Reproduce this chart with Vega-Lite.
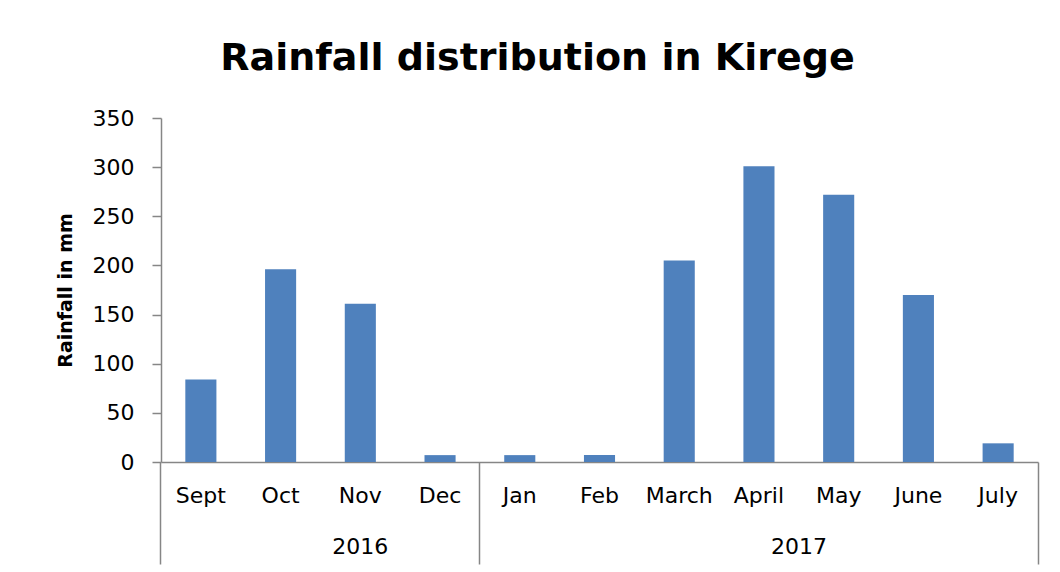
{
  "$schema": "https://vega.github.io/schema/vega-lite/v6.json",
  "width": 877,
  "height": 344,
  "autosize": "none",
  "padding": {"left": 161, "top": 118, "right": 22, "bottom": 110},
  "background": "white",
  "config": {
    "font": "DejaVu Sans",
    "view": {"stroke": null},
    "axis": {"labelColor": "#000000", "titleColor": "#000000", "domainColor": "#868686", "tickColor": "#868686", "grid": false, "labelFont": "DejaVu Sans", "titleFont": "DejaVu Sans"}
  },
  "title": {
    "text": "Rainfall distribution in Kirege",
    "fontSize": 38,
    "fontWeight": "bold",
    "font": "DejaVu Sans",
    "color": "#000000",
    "anchor": "middle",
    "frame": "group",
    "dx": -62,
    "offset": 29
  },
  "data": {
    "values": [
      {"year": "2016", "month": "Sept", "rainfall": 84},
      {"year": "2016", "month": "Oct", "rainfall": 196},
      {"year": "2016", "month": "Nov", "rainfall": 161},
      {"year": "2016", "month": "Dec", "rainfall": 7},
      {"year": "2017", "month": "Jan", "rainfall": 7},
      {"year": "2017", "month": "Feb", "rainfall": 7},
      {"year": "2017", "month": "March", "rainfall": 205},
      {"year": "2017", "month": "April", "rainfall": 301},
      {"year": "2017", "month": "May", "rainfall": 272},
      {"year": "2017", "month": "June", "rainfall": 170},
      {"year": "2017", "month": "July", "rainfall": 19}
    ]
  },
  "resolve": {"axis": {"x": "independent"}, "scale": {"x": "shared"}},
  "layer": [
    {
      "mark": {"type": "bar", "color": "#4F81BD", "width": {"band": 0.39}},
      "encoding": {
        "x": {
          "field": "month",
          "type": "nominal",
          "sort": ["Sept", "Oct", "Nov", "Dec", "Jan", "Feb", "March", "April", "May", "June", "July"],
          "scale": {"paddingInner": 0, "paddingOuter": 0},
          "axis": {
            "orient": "bottom",
            "title": null,
            "bandPosition": 0.5,
            "ticks": false,
            "tickSize": 0,
            "labelAngle": 0,
            "labelFontSize": 22,
            "labelPadding": 23,
            "labelOverlap": false,
            "domainWidth": 1.5
          }
        },
        "y": {
          "field": "rainfall",
          "type": "quantitative",
          "scale": {"domain": [0, 350]},
          "axis": {
            "title": "Rainfall in mm",
            "titleFontSize": 19,
            "titleFontWeight": "bold",
            "titlePadding": 17,
            "values": [0, 50, 100, 150, 200, 250, 300, 350],
            "labelFontSize": 22,
            "labelPadding": 18,
            "tickSize": 9,
            "tickWidth": 1.5,
            "domainWidth": 1.5
          }
        }
      }
    },
    {
      "mark": {"type": "rule", "strokeOpacity": 0},
      "encoding": {
        "x": {
          "field": "month",
          "type": "nominal",
          "sort": ["Sept", "Oct", "Nov", "Dec", "Jan", "Feb", "March", "April", "May", "June", "July"],
          "axis": {
            "orient": "bottom",
            "title": null,
            "bandPosition": 0,
            "domain": false,
            "tickSize": 102,
            "tickWidth": 1.5,
            "tickColor": {"condition": {"test": "datum.value === 'Sept' || datum.value === 'Jan'", "value": "#868686"}, "value": "transparent"},
            "labelExpr": "datum.value === 'Nov' ? '2016' : datum.value === 'April' ? '2017' : ''",
            "labelOffset": {"condition": {"test": "datum.value === 'April'", "value": 40}, "value": 0},
            "labelAngle": 0,
            "labelFontSize": 22,
            "labelPadding": -28,
            "labelOverlap": false
          }
        }
      }
    },
    {
      "mark": {"type": "rule", "strokeOpacity": 0},
      "encoding": {
        "x": {
          "field": "month",
          "type": "nominal",
          "sort": ["Sept", "Oct", "Nov", "Dec", "Jan", "Feb", "March", "April", "May", "June", "July"],
          "axis": {
            "orient": "bottom",
            "title": null,
            "bandPosition": 1,
            "domain": false,
            "labels": false,
            "tickSize": 102,
            "tickWidth": 1.5,
            "tickColor": {"condition": {"test": "datum.value === 'July'", "value": "#868686"}, "value": "transparent"}
          }
        }
      }
    }
  ]
}
